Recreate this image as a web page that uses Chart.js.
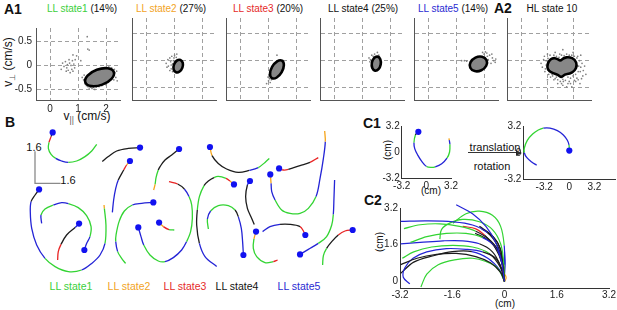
<!DOCTYPE html>
<html><head><meta charset="utf-8">
<script src="https://cdn.jsdelivr.net/npm/chart.js@4.4.1/dist/chart.umd.min.js"></script>
<style>
body{margin:0;width:617px;height:310px;position:relative;background:#fff;overflow:hidden;font-family:"Liberation Sans",Arial,Helvetica,sans-serif;color:#111}
canvas{position:absolute}
.t{position:absolute;white-space:nowrap;font-size:10px;line-height:1;transform:translate(-50%,-50%)}
.l{transform:translate(0,-50%)}
.pl{font-weight:bold;font-size:14px}
.g{color:#3ccf3c}.o{color:#f2a31e}.r{color:#e52a2a}.b{color:#2a2ad2}.k{color:#111}
sub{font-size:70%;vertical-align:-0.3em;color:#555}
</style></head><body>
<div class="t l pl" style="left:4px;top:9px">A1</div>
<div class="t" style="left:82px;top:9px"><span class="g">LL state1</span> (14%)</div>
<div class="t" style="left:171px;top:9px"><span class="o">LL state2</span> (27%)</div>
<div class="t" style="left:268px;top:9px"><span class="r">LL state3</span> (20%)</div>
<div class="t" style="left:363px;top:9px"><span class="k">LL state4</span> (25%)</div>
<div class="t" style="left:453px;top:9px"><span class="b">LL state5</span> (14%)</div>
<div class="t l pl" style="left:494px;top:8px">A2</div>
<div class="t" style="left:552px;top:9px">HL state 10</div>
<div class="t" style="left:9px;top:62px;font-size:12px;transform:translate(-50%,-50%) rotate(-90deg)">v<sub>⊥</sub> (cm/s)</div>
<div class="t" style="left:87px;top:117px;font-size:12px">v<sub>||</sub> (cm/s)</div>

<div class="t l pl" style="left:5px;top:122px">B</div>
<div class="t" style="left:34px;top:147px;font-size:11px">1.6</div>
<div class="t" style="left:68px;top:180px;font-size:11px">1.6</div>
<div class="t g" style="left:71px;top:286px;font-size:10.5px">LL state1</div>
<div class="t o" style="left:129px;top:286px;font-size:10.5px">LL state2</div>
<div class="t r" style="left:185px;top:286px;font-size:10.5px">LL state3</div>
<div class="t k" style="left:237px;top:286px;font-size:10.5px">LL state4</div>
<div class="t b" style="left:299px;top:286px;font-size:10.5px">LL state5</div>

<div class="t l pl" style="left:363px;top:123px">C1</div>
<div class="t" style="left:388px;top:150px;transform:translate(-50%,-50%) rotate(-90deg)">(cm)</div>
<div class="t" style="left:431px;top:191px">(cm)</div>
<div class="t" style="left:495px;top:147px;font-size:11px">translation</div>
<div style="position:absolute;left:468px;top:152px;width:49px;height:1px;background:#333"></div>
<div style="position:absolute;left:516px;top:149.5px;width:0;height:0;border-left:6px solid #333;border-top:3px solid transparent;border-bottom:3px solid transparent"></div>
<div class="t" style="left:492px;top:166px;font-size:11px">rotation</div>
<div class="t l pl" style="left:364px;top:200px">C2</div>
<div class="t" style="left:380px;top:242px;transform:translate(-50%,-50%) rotate(-90deg)">(cm)</div>
<div class="t" style="left:505px;top:304px">(cm)</div>

<script>
const FONT='"Liberation Sans", Arial, Helvetica, sans-serif';
Chart.defaults.font.family=FONT;
Chart.defaults.color='#222';

// ---------- DATA ----------
const STATE_NAMES=['LL state1','LL state2','LL state3','LL state4','LL state5'];
const A_TICKS_X=[0,1,2];
const A_TICKS_Y=[-0.5,0,0.5];

// scatter of (v_par, v_perp) for each LL state
const SCAT_S1=[[0.45,0.05],[0.5,-0.02],[0.55,0.08],[0.6,-0.05],[0.62,0.02],[0.65,-0.1],[0.7,0.05],[0.72,-0.15],[0.75,0.0],[0.78,-0.08],[0.8,0.1],[0.82,-0.12],[0.85,0.03],[0.88,-0.05],[0.58,-0.12],[0.68,0.12],[0.4,-0.08],[0.9,0.12],[0.95,0.2],[0.82,0.22],[1.33,0.6],[1.35,0.34],[1.4,0.32],[1.1,0.1],
 [1.25,-0.38],[1.3,-0.42],[1.35,-0.44],[1.45,-0.45],[1.55,-0.46],[1.65,-0.45],[1.75,-0.44],[1.85,-0.42],[1.95,-0.38],[2.05,-0.33],[2.15,-0.27],[2.25,-0.22],[2.32,-0.15],[2.35,-0.25],[2.4,-0.32],[2.3,-0.08],[2.2,-0.05],[2.1,-0.03],[1.2,-0.3],[1.15,-0.25],[1.22,-0.2],[1.5,-0.48],[1.6,-0.5],[1.4,-0.47],[2.0,-0.4],[2.28,-0.3],[2.38,-0.12]];
const SCAT_S2=[[0.72,-0.05],[0.78,0.02],[0.8,-0.1],[0.85,0.05],[0.88,-0.02],[0.9,-0.15],[0.92,0.08],[0.95,-0.06],[0.98,0.0],[1.0,-0.12],[1.02,0.1],[1.05,-0.02],[0.85,-0.18],[0.95,-0.2],[1.08,0.06],[0.75,-0.12],[1.0,0.05],[1.1,0.12],[0.9,-0.08]];
const SCAT_S3=[[1.0,-0.3],[1.05,-0.33],[1.1,-0.28],[1.02,-0.37],[1.08,-0.4],[0.95,-0.42],[1.12,-0.35],[1.15,-0.3],[1.32,0.1],[1.55,0.0],[1.5,-0.05]];
const SCAT_S4=[[1.25,0.05],[1.3,0.02],[1.35,0.1],[1.28,-0.02],[1.45,0.12],[1.55,0.15],[1.4,0.08],[1.6,0.1]];
const SCAT_S5=[[1.2,0.0],[1.3,0.0],[1.38,-0.01],[2.0,0.12],[2.1,0.14],[2.2,0.1],[2.3,0.05],[2.35,0.0],[2.4,-0.03],[2.05,0.16],[2.15,0.02],[2.25,-0.05],[1.95,0.15],[2.28,0.12],[2.12,0.08],[2.42,0.03]];
const SCAT_HL10=[[0.75,-0.05],[0.8,-0.12],[0.85,0.02],[0.9,-0.2],[0.95,-0.08],[0.88,0.08],[0.92,-0.15],[1.0,0.12],[1.05,-0.25],[1.1,0.1],[1.12,-0.3],[1.2,-0.28],[1.25,0.1],[1.3,-0.33],[1.35,0.08],[1.4,-0.35],[1.45,0.06],[1.5,-0.38],[1.55,0.1],[1.6,-0.34],[1.65,0.09],[1.7,-0.36],[1.75,0.12],[1.8,-0.3],[1.85,0.1],[1.9,-0.32],[1.95,0.1],[2.0,-0.28],[2.05,0.08],[2.1,-0.25],[2.15,0.05],[2.2,-0.2],[2.25,0.0],[2.3,-0.12],[2.35,-0.05],[2.4,-0.18],[2.45,-0.1],[2.5,-0.25],[2.2,-0.35],[1.8,-0.42],[1.6,-0.45],[1.95,-0.48],[1.4,-0.42],[1.3,0.15],[1.6,0.2],[1.15,0.0],[1.0,-0.35],[2.3,0.1],[2.1,-0.38],[1.75,-0.48],[0.95,0.0],[2.38,-0.28],[1.55,-0.42],[1.85,-0.38],[2.0,0.15],[1.7,0.05],[2.15,-0.32],[1.25,-0.35],[1.48,0.12],[2.27,-0.42],
 [2.22,-0.1],[2.28,-0.2],[2.18,0.08],[1.35,-0.3],[1.18,-0.25],[1.02,0.04],[2.33,-0.33],[1.62,-0.38],[1.9,-0.42],[2.05,-0.36]];
// Gaussian contours: [centre v_par, centre v_perp, half-axis (v_par units), half-axis (v_perp units), tilt deg]
const ELL_S1=[1.77,-0.245,0.54,0.165,20];
const ELL_S2=[1.15,-0.10,0.16,0.12,-20];
const ELL_S3=[1.32,-0.16,0.36,0.10,60];
const ELL_S4=[1.51,-0.055,0.16,0.13,-10];
const ELL_S5=[1.80,-0.06,0.32,0.128,25];
const CONTOUR_HL10=[[0.98,-0.12],[1.04,-0.01],[1.2,0.05],[1.38,0.04],[1.5,-0.01],[1.62,0.05],[1.85,0.07],[2.08,0.02],[2.16,-0.09],[2.06,-0.19],[1.87,-0.24],[1.67,-0.25],[1.55,-0.31],[1.41,-0.26],[1.22,-0.23],[1.06,-0.19]];

// B: trajectories [x cm, y cm, LL state of following segment]
const TRAJ_B=[
 [[1.73,7.88,4],[1.63,7.67,3],[1.50,7.38,1],[1.46,7.08,1],[1.63,6.78,1],[1.92,6.58,5],[2.29,6.45,5],[2.71,6.38,1],[3.23,6.45,1],[3.75,6.67,1],[4.17,6.95,1],[4.48,7.28,1]],
 [[7.19,7.12,4],[6.46,7.08,4],[5.73,6.95,4],[5.21,6.67,4],[4.83,6.42,4]],
 [[6.56,6.45,2],[6.35,6.25,3],[6.17,6.0,4],[5.83,5.5,5],[5.67,5.08,5],[5.54,4.5,5],[5.46,3.88,5]],
 [[9.63,7.05,4],[9.17,6.75,4],[8.75,6.5,4],[8.44,6.17,4],[8.33,6.0,1],[8.19,5.62,1],[8.13,5.28,2],[8.04,5.0,2]],
 [[0.88,5.03,4],[0.63,4.75,4],[0.38,4.42,5],[0.33,3.92,5],[0.42,3.08,5],[0.73,2.25,5],[1.25,1.58,1],[1.88,1.17,1],[2.71,0.92,1],[3.54,1.0,5],[4.17,1.33,5],[4.69,1.75,5],[5.0,2.33,1],[5.06,3.25,1],[4.96,4.08,2],[4.94,4.25,2]],
 [[3.71,2.0,5],[3.85,2.33,5],[4.06,2.67,1],[4.13,3.17,1],[3.85,3.72,1],[3.33,4.12,1],[2.71,4.32,5],[2.29,4.37,5],[1.77,4.25,1],[1.25,4.05,1],[1.0,3.75,5],[1.04,3.33,5]],
 [[3.38,3.32,5],[3.13,3.12,4],[2.60,2.75,4],[2.25,2.28,3],[2.08,1.92,3],[2.04,1.5,3]],
 [[8.02,4.38,5],[7.29,4.33,5],[6.71,4.25,1],[6.21,3.95,1],[5.88,3.42,1],[5.69,2.75,1],[5.67,2.42,5],[5.79,1.92,1],[6.04,1.58,1],[6.29,1.33,1]],
 [[7.08,3.13,5],[7.25,2.67,5],[7.42,2.25,1],[7.81,1.75,1],[8.33,1.45,1],[8.75,1.42,5],[9.27,1.62,5],[9.79,2.0,5],[10.10,2.42,1],[10.35,2.92,1],[10.46,3.58,1],[10.42,4.25,1],[10.25,4.67,5],[9.96,5.05,4],[9.54,5.3,3],[9.0,5.42,3]],
 [[8.38,3.37,2],[8.65,3.17,3],[9.0,3.02,1],[9.33,3.0,1]],
 [[11.56,7.15,2],[11.69,6.72,4],[12.08,6.33,4],[12.60,6.05,4],[13.33,5.88,4],[14.02,5.98,5],[14.58,6.12,1],[15.0,6.38,1],[15.27,6.58,1]],
 [[15.88,6.08,3],[16.15,6.0,3],[16.46,6.03,4],[17.19,6.22,4],[17.81,6.38,3],[18.33,6.62,3]],
 [[15.33,5.78,2],[15.38,5.33,5],[15.42,4.92,5],[15.63,4.5,1],[16.04,4.0,1],[16.56,3.83,1],[17.19,3.83,1],[17.71,4.08,1],[18.19,4.67,5],[18.44,5.58,5],[18.65,6.58,5],[18.77,7.42,2],[18.73,7.95,2]],
 [[13.06,5.28,2],[12.81,5.45,3],[12.56,5.58,1],[12.08,5.68,1],[11.81,5.62,4],[11.46,5.45,4],[11.19,5.22,1],[10.90,4.67,1],[10.77,4.0,4],[10.73,3.25,4],[10.90,2.33,5],[11.25,1.67,5],[11.98,1.17,5]],
 [[14.06,5.45,5],[13.90,5.25,4],[13.79,4.67,4],[13.90,4.08,4],[14.17,3.58,4],[14.33,3.28,4]],
 [[13.65,1.75,5],[13.60,2.42,5],[13.52,3.08,5],[13.33,3.67,4],[13.13,4.0,1],[12.71,4.22,1],[12.08,4.22,1],[11.60,3.95,5],[11.40,3.55,1],[11.46,3.05,1]],
 [[14.44,2.92,2],[14.31,2.55,1],[14.27,2.08,1],[14.48,1.67,1],[15.0,1.37,1],[15.52,1.42,3],[15.79,1.5,3]],
 [[17.52,2.75,3],[17.40,2.95,3],[17.19,3.17,4],[16.56,3.28,4],[15.94,3.28,5],[15.31,3.17,5],[14.85,2.92,5]],
 [[17.19,1.78,5],[17.71,2.03,5],[18.33,2.33,1],[18.85,2.67,1],[19.17,3.25,1],[19.27,3.78,5],[19.31,4.58,5],[19.35,5.5,5]],
 [[20.48,3.0,3],[20.0,2.95,3],[19.58,2.75,4],[19.17,2.42,4],[18.85,2.08,1],[18.65,1.72,1],[18.6,1.25,1]]
];
const SCALE_BAR_B=[[0.625,6.935],[0.625,5.335],[2.225,5.335]]; // 1.6 cm each way

// C1: one trajectory before / after translation+rotation
const TRAJ_C1_RAW=[[-1.04,2.48,4],[-1.42,2.10,1],[-1.61,1.14,5],[-1.50,0.38,5],[-1.12,-0.38,5],[-0.55,-1.22,5],[0.02,-1.79,1],[0.59,-1.90,1],[1.15,-1.83,5],[1.99,-1.45,5],[2.67,-0.76,1],[3.01,0.0,1],[3.05,0.95,5],[2.97,1.45,2],[2.93,1.68,2]];
const TRAJ_C1_ALIGNED=[[0,0.26,1],[-0.04,0.93,5],[-0.25,1.49,5],[-0.76,2.13,5],[-1.52,2.65,5],[-2.46,2.95,5],[-3.31,2.95,1],[-3.95,2.72,1],[-4.67,2.24,1],[-5.35,1.49,1],[-5.73,0.56,1],[-5.73,0.0,5],[-5.43,-0.56,5],[-4.79,-1.11,5],[-4.16,-1.49,2]];
const C_TICKS=[-3.2,0,3.2];

// C2: aligned trajectories
const TRAJ_C2=[
 [[-1.48,3.34,5],[-0.98,2.95,5],[-0.57,2.40,5],[-0.27,1.70,5],[-0.09,0.87,5],[-0.02,0.18,5],[0,0,5]],
 [[-3.18,2.62,5],[-2.38,2.64,5],[-1.58,2.60,5],[-0.98,2.46,5],[-0.52,2.12,4],[-0.22,1.57,4],[-0.07,0.87,4],[0,0,4]],
 [[-1.98,1.84,1],[-1.93,2.26,1],[-1.68,2.54,1],[-1.28,2.70,1],[-0.77,2.60,1],[-0.37,2.26,1],[-0.12,1.64,1],[-0.03,0.87,1],[0,0,1]],
 [[-1.58,2.54,1],[-1.18,2.95,1],[-0.77,3.06,1],[-0.37,2.88,1],[-0.12,2.40,1],[-0.01,1.57,5],[0,0.73,5]],
 [[-3.08,2.30,1],[-2.58,2.47,1],[-1.98,2.51,1],[-1.38,2.40,1],[-0.88,2.19,4],[-0.42,1.77,4],[-0.12,1.15,4],[0,0,4]],
 [[-2.88,1.70,1],[-2.38,1.95,1],[-1.78,2.09,1],[-1.18,2.09,1],[-0.67,1.91,5],[-0.27,1.50,5],[-0.07,0.73,3],[0,0,3]],
 [[-3.18,1.64,5],[-2.58,1.70,5],[-1.88,1.77,5],[-1.28,1.77,5],[-0.77,1.64,4],[-0.37,1.29,4],[-0.12,0.67,4],[0,0,4]],
 [[-3.18,0.73,4],[-2.68,1.01,4],[-2.08,1.18,4],[-1.48,1.22,4],[-0.88,1.08,4],[-0.42,0.80,4],[-0.12,0.39,4],[0,0,4]],
 [[-2.56,-0.24,1],[-2.38,0.32,1],[-2.03,0.73,1],[-1.53,0.94,1],[-0.98,1.01,1],[-0.57,0.87,1],[-0.22,0.59,1],[0,0,1]],
 [[-2.90,-0.11,5],[-3.10,0.18,5],[-3.05,0.60,5],[-2.80,1.01,5],[-2.38,1.29,5],[-1.78,1.43,5],[-1.18,1.40,5],[-0.67,1.29,4],[-0.27,1.01,4],[-0.07,0.46,3],[0,0,3]],
 [[-3.13,1.01,1],[-2.78,1.29,1],[-2.23,1.50,1],[-1.58,1.57,1],[-0.98,1.50,1],[-0.47,1.22,4],[-0.12,0.60,4],[0,0,4]],
 [[-0.77,2.40,4],[-0.42,2.05,4],[-0.17,1.57,4],[-0.04,0.73,4],[0,0,4]],
 [[-1.28,2.40,3],[-0.88,2.29,3],[-0.6,2.0,4],[-0.3,1.5,4],[-0.08,0.8,4],[0,0,4]],
 [[-3.18,0.35,4],[-2.78,0.84,4],[-2.18,1.12,4],[-1.6,1.3,4],[-1.0,1.3,5],[-0.5,1.0,5],[-0.15,0.5,5],[0,0,5]],
 [[-0.9,2.1,4],[-0.5,1.8,4],[-0.2,1.3,4],[-0.05,0.6,4],[0,0,4]],
 [[-0.7,2.3,4],[-0.35,1.95,4],[-0.12,1.4,4],[-0.02,0.6,4],[0,0,4]],
 [[0,1.3,5],[0.02,0.8,5],[0,0.3,5]],
 [[0,0,2],[0.05,0.15,2],[0.02,0.3,2]]
];
const C2_TICKS_X=[-3.2,-1.6,0,1.6,3.2];
const C2_TICKS_Y=[0,1.6,3.2];

// ---------- STYLE / HELPERS ----------
const SC={1:'#33d433',2:'#f5a41a',3:'#e82424',4:'#1c1c1c',5:'#2424d6'};
let nId=0;
function canvasAt(l,t,w,h){const c=document.createElement('canvas');c.width=w;c.height=h;c.style.left=l+'px';c.style.top=t+'px';c.style.width=w+'px';c.style.height=h+'px';document.body.appendChild(c);return c;}
function scale(min,max,ticks,size,o){
  return {type:'linear',min,max,
    afterBuildTicks:s=>{s.ticks=ticks.map(v=>({value:v}));},
    afterFit:s=>{if(s.isHorizontal())s.height=size;else s.width=size;},
    grid:{display:!!o.grid,color:'#a0a0a0',lineWidth:1,drawTicks:false,borderDash:[4,3]},
    border:{display:true,color:o.bc||'#555',width:1,dash:o.grid?[4,3]:[]},
    ticks:{display:!!o.labels,font:{size:o.fs||10},color:'#222',padding:o.pad||2,callback:v=>String(v)}};
}
function shapesPlugin(ells,blobs){
  return {id:'shp'+(nId++),afterDatasetsDraw(chart){
    const ctx=chart.ctx,xs=chart.scales.x,ys=chart.scales.y;
    ctx.save();ctx.fillStyle='#878787';ctx.strokeStyle='#000';ctx.lineWidth=2.6;
    ells.forEach(e=>{const cx=xs.getPixelForValue(e[0]),cy=ys.getPixelForValue(e[1]);
      const rx=Math.abs(xs.getPixelForValue(e[0]+e[2])-cx),ry=Math.abs(ys.getPixelForValue(e[1]+e[3])-cy);
      ctx.beginPath();ctx.ellipse(cx,cy,rx,ry,-e[4]*Math.PI/180,0,2*Math.PI);ctx.fill();ctx.stroke();});
    blobs.forEach(b=>{const p=b.map(q=>[xs.getPixelForValue(q[0]),ys.getPixelForValue(q[1])]);const n=p.length;
      const mid=(a,c)=>[(a[0]+c[0])/2,(a[1]+c[1])/2];ctx.beginPath();let m=mid(p[n-1],p[0]);ctx.moveTo(m[0],m[1]);
      for(let i=0;i<n;i++){const mm=mid(p[i],p[(i+1)%n]);ctx.quadraticCurveTo(p[i][0],p[i][1],mm[0],mm[1]);}
      ctx.closePath();ctx.fill();ctx.stroke();});
    ctx.restore();}};
}
const base={responsive:false,animation:false,devicePixelRatio:1,events:[],plugins:{legend:{display:false},tooltip:{enabled:false}}};

function aPlot(box,xr,pts,ells,blobs,labels){
  const ys=labels?36:1, xsz=labels?22:1;
  new Chart(canvasAt(box[0],box[1],box[2],box[3]),{type:'scatter',
    data:{datasets:[{data:pts.map(p=>({x:p[0],y:p[1]})),pointRadius:0.85,pointBackgroundColor:'#808080',pointBorderWidth:0}]},
    options:Object.assign({},base,{layout:{autoPadding:false,padding:{top:0,right:1,left:0,bottom:0}},
      scales:{x:scale(xr[0],xr[1],A_TICKS_X,xsz,{grid:1,labels,pad:3,fs:10}),y:scale(-0.72,0.78,A_TICKS_Y,ys,{grid:1,labels,pad:4,fs:10})}}),
    plugins:[shapesPlugin(ells,blobs)]});
}
aPlot([0,18,121,104],[-0.5,2.5],SCAT_S1,[ELL_S1],[],true);
aPlot([131,18,86,83],[-0.5,2.5],SCAT_S2,[ELL_S2],[],false);
aPlot([225,18,86,83],[-0.5,2.5],SCAT_S3,[ELL_S3],[],false);
aPlot([319,18,86,83],[-0.5,2.5],SCAT_S4,[ELL_S4],[],false);
aPlot([413,18,86,83],[-0.5,2.5],SCAT_S5,[ELL_S5],[],false);
aPlot([506,18,86,83],[-0.58,2.7],SCAT_HL10,[],[CONTOUR_HL10],false);

function trajSets(list,dots,lw){
  return list.map(tr=>({data:tr.map(p=>({x:p[0],y:p[1]})),showLine:true,tension:0.35,borderWidth:lw,clip:false,
    borderColor:SC[tr[0][2]],segment:{borderColor:c=>SC[tr[c.p0DataIndex][2]]},
    pointRadius:c=>(dots&&c.dataIndex===0)?3.1:0,pointBackgroundColor:'#1212f0',pointBorderWidth:0}));
}
// B
new Chart(canvasAt(25,125,335,165),{type:'scatter',
  data:{datasets:[{data:SCALE_BAR_B.map(p=>({x:p[0],y:p[1]})),showLine:true,tension:0,borderColor:'#8a8a8a',borderWidth:1.3,pointRadius:0,clip:false}].concat(trajSets(TRAJ_B,true,1.3))},
  options:Object.assign({},base,{layout:{autoPadding:false,padding:0},
    scales:{x:{type:'linear',display:false,min:0,max:20.9375},y:{type:'linear',display:false,min:0,max:8.25}}})});
// C1 left
new Chart(canvasAt(380,118,80,76),{type:'scatter',data:{datasets:trajSets([TRAJ_C1_RAW],true,1.3)},
  options:Object.assign({},base,{layout:{autoPadding:false,padding:{top:4,right:2,left:0,bottom:0}},
    scales:{x:scale(-3.2,3.2,C_TICKS,16,{labels:1,pad:2,bc:'#333'}),y:scale(-3.2,3.2,C_TICKS,21.7,{labels:1,pad:2,bc:'#333'})}})});
// C1 right
new Chart(canvasAt(500,118,117,78),{type:'scatter',data:{datasets:trajSets([TRAJ_C1_ALIGNED],true,1.3)},
  options:Object.assign({},base,{layout:{autoPadding:false,padding:{top:4.5,right:2,left:0,bottom:0}},
    scales:{x:scale(-5.86,5.82,C_TICKS,16.5,{labels:1,pad:2,bc:'#333'}),y:scale(-3.2,3.2,C_TICKS,23.3,{labels:1,pad:2,bc:'#333'})}})});
// C2
new Chart(canvasAt(375,200,242,100),{type:'scatter',data:{datasets:trajSets(TRAJ_C2,false,1.2)},
  options:Object.assign({},base,{layout:{autoPadding:false,padding:{top:4,right:4.3,left:0,bottom:0}},
    scales:{x:scale(-3.2,3.2,C2_TICKS_X,11.7,{labels:1,pad:1,bc:'#333'}),y:scale(-0.3,3.2,C2_TICKS_Y,25,{labels:1,pad:2,bc:'#333'})}})});
</script>
</body></html>
